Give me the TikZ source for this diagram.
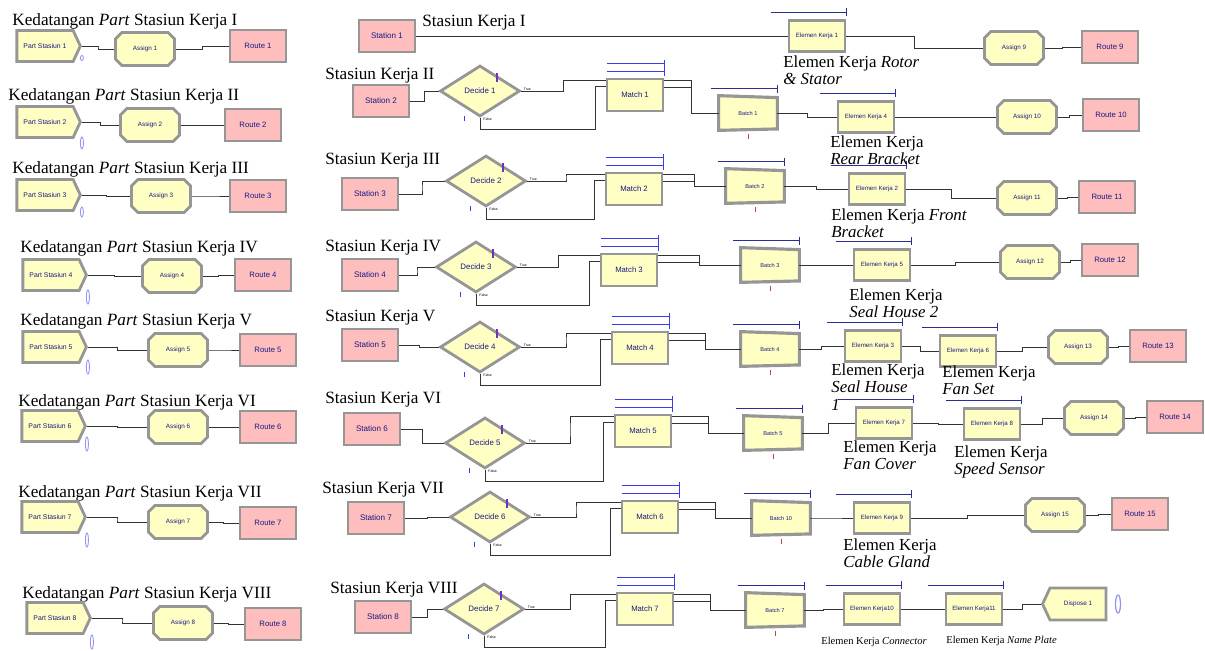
\documentclass[tikz,border=0pt]{standalone}
\usepackage{fontspec}
\setmainfont{Liberation Serif}
\newfontfamily\arenafont{Liberation Sans}
\usepackage{tikz}
\usetikzlibrary{
  calc,
  shapes.geometric,
  shapes.misc,
  shapes.symbols
}
\usepackage{xcolor}
\definecolor{modfill}{RGB}{255,255,196}
\definecolor{routefill}{RGB}{255,190,190}
\definecolor{modedge}{RGB}{150,150,150}
\definecolor{modtext}{RGB}{25,25,130}
\definecolor{matchblue}{RGB}{60,60,235}
\definecolor{queueblue}{RGB}{45,45,150}
\definecolor{tickpurple}{RGB}{110,50,190}
\definecolor{tickred}{RGB}{190,70,70}
\newcommand{\modsize}[1]{\fontsize{#1}{#1}\selectfont\arenafont}

\begin{document}
\begin{tikzpicture}[x=0.02cm, y=-0.02cm,
  mod/.style={draw=modedge, line width=1.6pt, fill=modfill, text=modtext,
    inner sep=0pt, font=\modsize{3.6}},
  createbox/.style={mod, signal, signal to=east, signal pointer angle=130,
    minimum width=1.27cm, minimum height=0.62cm, font=\modsize{3.9}},
  disposebox/.style={mod, signal, signal to=west, signal pointer angle=130,
    minimum width=1.27cm, minimum height=0.64cm},
  assignbox/.style={mod, chamfered rectangle, chamfered rectangle xsep=0.07cm,
    chamfered rectangle ysep=0.07cm, minimum width=1.18cm, minimum height=0.66cm},
  pinkbox/.style={mod, rectangle, fill=routefill, minimum width=1.12cm,
    minimum height=0.64cm, font=\modsize{4.4}},
  decidebox/.style={mod, diamond, minimum width=1.6cm, minimum height=1.02cm,
    font=\modsize{4.5}},
  matchbox/.style={mod, rectangle, minimum width=1.12cm, minimum height=0.64cm,
    font=\modsize{4.4}},
  workbox/.style={mod, rectangle, minimum width=1.12cm, minimum height=0.62cm,
    font=\modsize{3.5}},
  batchbox/.style={inner sep=0pt, minimum width=1.16cm, minimum height=0.68cm},
  batchline/.style={draw=modedge, line width=1.8pt, fill=modfill},
  batchtext/.style={inner sep=0pt, text=modtext, font=\modsize{3.2}},
  flag/.style={inner sep=0pt, font=\modsize{2}},
  heading/.style={anchor=base west, inner sep=0pt, font=\fontsize{9.8}{10}\selectfont},
  worklabel/.style={anchor=north west, inner sep=0pt, align=left,
    font=\fontsize{9.6}{10}\selectfont},
  smalllabel/.style={anchor=base west, inner sep=0pt, font=\fontsize{6}{7}\selectfont},
  conn/.style={draw=black!80, line width=0.5pt},
  hvh/.style={to path={-| ($(\tikztostart)!#1!(\tikztotarget)$) |- (\tikztotarget)}},
  hvh/.default=0.5,
  matchq/.style={draw=matchblue, line width=0.6pt},
  queue/.style={draw=queueblue, line width=0.6pt},
  anim/.style={draw=matchblue!55, line width=0.5pt}
]
  \useasboundingbox (0,0) rectangle (1205,650);

  % Arrivals of parts (left column)
  \foreach \k/\tx/\ty/\cx/\cy/\ax/\ay/\rx/\ry/\ey/\eh/\rn in {
    1/12/25/45/46/145/49/258/46/58/0.05/I,
    2/8/100/45/122/150/125/253/125/143/0.12/II,
    3/12/173/45/195/161/196/258/196/212/0.1/III,
    4/20/252/51/275/172/276/263/275/297/0.14/IV,
    5/20/325/51/347/178/350/268/350/367/0.14/V,
    6/18/406/50/426/178/427/268/427/444/0.14/VI,
    7/18/497/50/517/178/522/268/523/540/0.14/VII,
    8/22/598/55/618/183/623/273/624/642/0.14/VIII
  }{
    \node[heading] (KT\k) at (\tx,\ty) {Kedatangan \textit{Part} Stasiun Kerja \rn};
    \node[createbox] (C\k) at (\cx,\cy) {Part Stasiun \k};
    \node[assignbox] (A\k) at (\ax,\ay) {Assign \k};
    \node[pinkbox] (R\k) at (\rx,\ry) {Route \k};
    \draw[conn] (C\k.east) to[hvh] (A\k.west);
    \draw[conn] (A\k.east) to[hvh] (R\k.west);
    \draw[anim] (C\k.east |- 0,\ey) ellipse [x radius=0.03cm, y radius=\eh cm];
  }

  % Stasiun Kerja I
  \node[heading] (ST1) at (422,26) {Stasiun Kerja I};
  \node[pinkbox, font=\modsize{4.6}] (S1) at (387,36) {Station 1};

  % Stasiun Kerja II - VIII
  \foreach \k/\tx/\ty/\rn/\sx/\sy/\dx/\dy/\mx/\my/\bx/\by/\bn in {
    2/325/79/II/381/101/480/91/635/95/748/113/1,
    3/325/164/III/370/194/486/181/634/189/755/186/2,
    4/325/251/IV/370/275/476/267/629/270/770/265/3,
    5/325/321/V/370/345/480/347/640/348/770/349/4,
    6/325/403/VI/372/429/485/443/643/431/773/433/5,
    7/322/493/VII/376/518/490/517/650/517/781/518/10,
    8/330/593/VIII/383/617/484/609/645/609/775/610/7
  }{
    \pgfmathtruncatemacro\dn{\k-1}
    \node[heading] (ST\k) at (\tx,\ty) {Stasiun Kerja \rn};
    \node[pinkbox, font=\modsize{4.6}] (S\k) at (\sx,\sy) {Station \k};
    \node[decidebox] (D\k) at (\dx,\dy) {Decide \dn};
    \node[matchbox] (M\k) at (\mx,\my) {Match \dn};
    \node[batchbox] (B\k) at (\bx,\by) {};
    \filldraw[batchline] (B\k.north west) -- ([yshift=-1.1pt]B\k.north east)
      -- ([yshift=0.8pt]B\k.south east) -- (B\k.south west) -- cycle;
    \node[batchtext] (BT\k) at (B\k) {Batch \bn};
    \node[flag, anchor=south west] (DT\k) at ($(D\k.east)+(2,0)$) {True};
    \node[flag, anchor=north west] (DF\k) at ($(D\k.south)+(3,0)$) {False};
    \coordinate (Mi\k) at ($(M\k.north west)+(0,3)$);
    \coordinate (Mj\k) at ($(M\k.north west)+(0,9)$);
    \coordinate (Mo\k) at ($(M\k.north east)+(0,3)$);
    \coordinate (Mp\k) at ($(M\k.north east)+(0,10)$);
    \draw[conn] (S\k.east) to[hvh] (D\k.west);
    \draw[conn] (D\k.east) to[hvh] (Mi\k);
    \draw[conn] (D\k.south) -- ++(0,12) -| ($(M\k.west)+(-10,0)$) |- (Mj\k);
    \draw[conn] (Mo\k) to[hvh] (B\k.west);
    \draw[conn] (Mp\k) to[hvh] (B\k.west);
    % queues and marks
    \draw[matchq] ($(M\k.north west)+(1,-14)$) -- ($(M\k.north east)+(0,-14)$);
    \draw[matchq] ($(M\k.north west)+(1,-6)$) -- ($(M\k.north east)+(0,-6)$);
    \draw[matchq] ($(M\k.north east)+(0,-18)$) -- ($(M\k.north east)+(0,-2)$);
    \draw[queue] ($(B\k.north west)+(-8,-7)$) -- ($(B\k.north east)+(0,-7)$);
    \draw[queue] ($(B\k.north east)+(0,-11)$) -- ($(B\k.north east)+(0,-3)$);
    \draw[tickpurple, line width=0.8pt] ($(D\k.center)+(17,-18)$) -- ++(0,9);
    \draw[matchblue, line width=0.5pt] ($(D\k.center)+(-16,25)$) -- ++(0,5);
    \draw[tickred, line width=0.5pt] ($(B\k.south)+(0,4)$) -- ++(0,5);
  }

  % Work elements
  \foreach \n/\x/\y in {1/817/36, 4/866/117, 2/877/189, 5/882/265, 3/873/346,
      6/968/351, 7/884/423, 8/992/424, 9/882/518, 10/872/609, 11/974/609}{
    \node[workbox] (E\n) at (\x,\y) {Elemen Kerja\ifnum\n<10 \space\fi\n};
    \draw[queue] ($(E\n.north west)+(-17,-7)$) -- ($(E\n.north east)+(0,-7)$);
    \draw[queue] ($(E\n.north east)+(0,-11)$) -- ($(E\n.north east)+(0,-3)$);
  }

  % Assign and Route on the right
  \foreach \n/\ax/\ay/\rx/\ry in {9/1014/48/1110/47, 10/1027/117/1111/115,
      11/1027/198/1107/197, 12/1030/262/1110/260, 13/1078/347/1158/346,
      14/1094/418/1175/417, 15/1055/515/1140/514}{
    \node[assignbox] (A\n) at (\ax,\ay) {Assign \n};
    \node[pinkbox] (R\n) at (\rx,\ry) {Route \n};
    \draw[conn] (A\n.east) to[hvh] (R\n.west);
  }
  \node[disposebox] (X1) at (1078,604) {Dispose 1};
  \draw[anim, line width=0.7pt] (1118,604) ellipse [x radius=0.05cm, y radius=0.18cm];

  % Connections to the work elements
  \draw[conn] (S1.east) -- (E1.west);
  \draw[conn] (E1.east) to[hvh] (A9.west);
  \draw[conn] (B2.east) to[hvh] (E4.west);
  \draw[conn] (E4.east) to[hvh] (A10.west);
  \draw[conn] (B3.east) to[hvh] (E2.west);
  \draw[conn] (E2.east) to[hvh] (A11.west);
  \draw[conn] (B4.east) to[hvh] (E5.west);
  \draw[conn] (E5.east) to[hvh] (A12.west);
  \draw[conn] (B5.east) to[hvh] (E3.west);
  \draw[conn] (E3.east) to[hvh] (E6.west);
  \draw[conn] (E6.east) to[hvh] (A13.west);
  \draw[conn] (B6.east) to[hvh] (E7.west);
  \draw[conn] (E7.east) to[hvh] (E8.west);
  \draw[conn] (E8.east) to[hvh] (A14.west);
  \draw[conn] (B7.east) to[hvh] (E9.west);
  \draw[conn] (E9.east) to[hvh] (A15.west);
  \draw[conn] (B8.east) to[hvh] (E10.west);
  \draw[conn] (E10.east) to[hvh] (E11.west);
  \draw[conn] (E11.east) to[hvh] (X1.west);

  % Labels of the work elements
  \node[worklabel] (L1) at (783,55) {Elemen Kerja \textit{Rotor}\\\textit{\& Stator}};
  \node[worklabel] (L4) at (830,135) {Elemen Kerja\\\textit{Rear Bracket}};
  \node[worklabel] (L2) at (831,208) {Elemen Kerja \textit{Front}\\\textit{Bracket}};
  \node[worklabel] (L5) at (849,288) {Elemen Kerja\\\textit{Seal House 2}};
  \node[worklabel] (L3) at (831,363) {Elemen Kerja\\\textit{Seal House}\\\textit{1}};
  \node[worklabel] (L6) at (942,365) {Elemen Kerja\\\textit{Fan Set}};
  \node[worklabel] (L7) at (843,440) {Elemen Kerja\\\textit{Fan Cover}};
  \node[worklabel] (L8) at (954,445) {Elemen Kerja\\\textit{Speed Sensor}};
  \node[worklabel] (L9) at (843,538) {Elemen Kerja\\\textit{Cable Gland}};
  \node[smalllabel] (L10) at (821,644) {Elemen Kerja \textit{Connector}};
  \node[smalllabel] (L11) at (946,643) {Elemen Kerja \textit{Name Plate}};
\end{tikzpicture}
\end{document}
